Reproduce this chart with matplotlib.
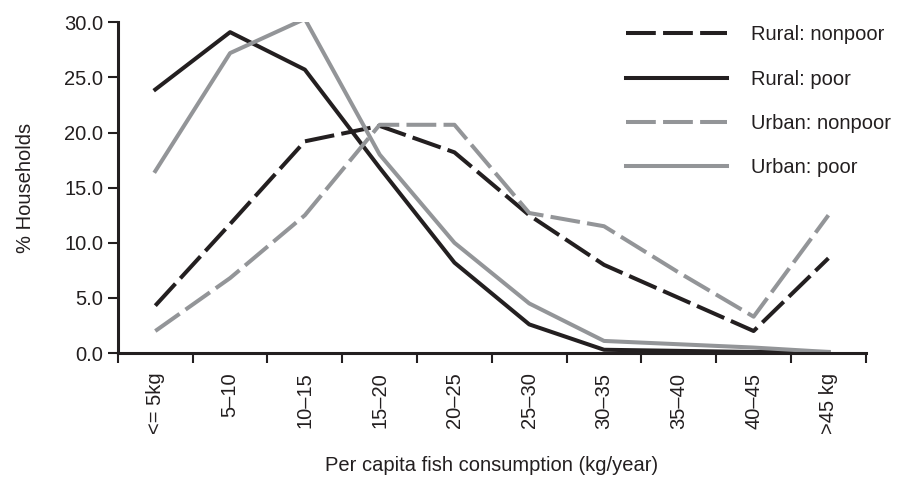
import matplotlib.pyplot as plt
import numpy as np

plt.rcParams['font.family'] = ['Liberation Sans', 'DejaVu Sans']

# Data
categories = ['<= 5kg', '5\u201310', '10\u201315', '15\u201320', '20\u201325',
              '25\u201330', '30\u201335', '35\u201340', '40\u201345', '>45 kg']
rural_nonpoor = [4.3, 11.7, 19.2, 20.6, 18.2, 12.5, 8.0, 5.0, 2.0, 8.6]
rural_poor = [23.9, 29.1, 25.7, 16.8, 8.2, 2.6, 0.3, 0.2, 0.1, 0.1]
urban_nonpoor = [2.0, 6.8, 12.5, 20.7, 20.7, 12.7, 11.5, 7.3, 3.3, 12.5]
urban_poor = [16.5, 27.2, 30.3, 18.0, 10.0, 4.5, 1.1, 0.8, 0.5, 0.1]

ink = '#231f20'
grey = '#939598'
lw = 2.9
dash = (0, (7.4, 1.8))
fs = 14.5

fig = plt.figure(figsize=(9, 4.83), dpi=100)
ax = fig.add_axes([0.131, 0.269, 0.831, 0.685])

x = np.arange(len(categories)) + 0.5
ax.plot(x, rural_nonpoor, color=ink, lw=lw, linestyle=dash, label='Rural: nonpoor')
ax.plot(x, rural_poor, color=ink, lw=lw, label='Rural: poor')
ax.plot(x, urban_nonpoor, color=grey, lw=lw, linestyle=dash, label='Urban: nonpoor')
ax.plot(x, urban_poor, color=grey, lw=lw, label='Urban: poor')

ax.set_xlim(0, len(categories))
ax.set_ylim(0, 30)
ax.set_yticks(np.arange(0, 31, 5))
ax.set_yticklabels(['%.1f' % v for v in np.arange(0, 31, 5)])
ax.set_xticks(np.arange(0, len(categories) + 1))
ax.set_xticklabels([])
ax.set_xticks(x, minor=True)
ax.set_xticklabels(categories, minor=True, rotation=90)
ax.tick_params(axis='x', which='minor', length=0, pad=14)
ax.tick_params(axis='both', which='major', direction='out', length=7, width=1.5,
               color=ink)
ax.tick_params(axis='both', which='both', labelsize=fs, labelcolor=ink)

for s in ['top', 'right']:
    ax.spines[s].set_visible(False)
for s in ['left', 'bottom']:
    ax.spines[s].set_linewidth(2.2)
    ax.spines[s].set_color(ink)

ax.set_ylabel('% Households', fontsize=fs, color=ink, labelpad=21)
ax.set_xlabel('Per capita fish consumption (kg/year)', fontsize=fs, color=ink,
              labelpad=16)

ax.legend(loc='upper right', bbox_to_anchor=(1.058, 1.045), frameon=False,
          fontsize=fs, handlelength=5.0, handletextpad=1.2, labelspacing=1.25,
          labelcolor=ink)

fig.savefig('out.png', dpi=100)
